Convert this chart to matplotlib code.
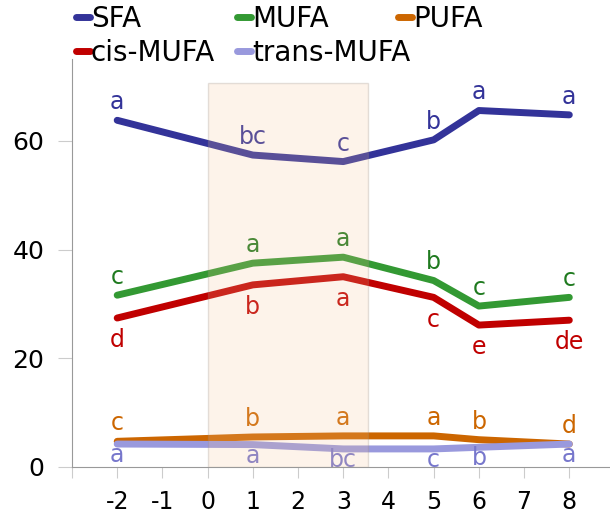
import matplotlib
matplotlib.use("Agg")
import matplotlib.pyplot as plt
from matplotlib.patches import Rectangle

# time points
x = [-2, 1, 3, 5, 6, 8]

sfa = [63.8, 57.4, 56.2, 60.2, 65.6, 64.8]
mufa = [31.6, 37.5, 38.6, 34.3, 29.6, 31.2]
cis_mufa = [27.4, 33.5, 35.0, 31.2, 26.1, 27.0]
pufa = [4.7, 5.5, 5.7, 5.7, 5.0, 4.2]
trans_mufa = [4.2, 4.1, 3.3, 3.3, 3.6, 4.2]

sfa_letters = ["a", "bc", "c", "b", "a", "a"]
mufa_letters = ["c", "a", "a", "b", "c", "c"]
cis_letters = ["d", "b", "a", "c", "e", "de"]
pufa_letters = ["c", "b", "a", "a", "b", "d"]
trans_letters = ["a", "a", "bc", "c", "b", "a"]

shade_x = (0, 3.55)
shade_top = 70.6

# name, values, letters, line colour, letter colour, letter offset (pt)
series = [
    ("SFA", sfa, sfa_letters, "#333399", "#333399", 13),
    ("MUFA", mufa, mufa_letters, "#339933", "#1f7a1f", 13),
    ("PUFA", pufa, pufa_letters, "#cc6600", "#cc6600", 13),
    ("cis-MUFA", cis_mufa, cis_letters, "#c00000", "#c00000", -16),
    ("trans-MUFA", trans_mufa, trans_letters, "#9999dd", "#7777cc", -8),
]

fig = plt.figure(figsize=(6.1, 5.17), dpi=100)
ax = fig.add_axes([0.118, 0.097, 0.882, 0.788])

handles = {}
for name, vals, letters, col, tcol, off in series:
    ln, = ax.plot(x, vals, color=col, lw=5, solid_capstyle="round",
                  solid_joinstyle="round", label=name, zorder=2)
    handles[name] = ln
    for xi, yi, lt in zip(x, vals, letters):
        ax.annotate(lt, (xi, yi), xytext=(0, off), textcoords="offset points",
                    ha="center", va="center", fontsize=17, color=tcol, zorder=3)

ax.add_patch(Rectangle((shade_x[0], 0), shade_x[1] - shade_x[0], shade_top,
                       facecolor=(245 / 255, 195 / 255, 150 / 255, 0.2),
                       edgecolor=(0.6, 0.55, 0.5, 0.25), lw=1, zorder=4))

ax.set_xlim(-3, 8.9)
ax.set_ylim(0, 75)
ax.set_xticks(range(-3, 9))
ax.set_xticklabels([""] + [str(i) for i in range(-2, 9)])
ax.set_yticks([0, 20, 40, 60])
for s in ["top", "right"]:
    ax.spines[s].set_visible(False)
for s in ["left", "bottom"]:
    ax.spines[s].set_color("#999999")
ax.tick_params(axis="x", length=8, color="#cccccc", labelsize=17, pad=9)
ax.tick_params(axis="y", length=10, color="#cccccc", labelsize=18, pad=10)

# legend laid out as a fixed grid, one legend per column
columns = [(["SFA", "cis-MUFA"], 0.124), (["MUFA", "trans-MUFA"], 0.388),
           (["PUFA"], 0.652)]
for names, xpos in columns:
    fig.legend([handles[n] for n in names], names, loc="upper left",
               bbox_to_anchor=(xpos, 0.99), frameon=False, fontsize=20,
               handlelength=0.5, handletextpad=0.05, borderpad=0,
               borderaxespad=0, labelspacing=0.2)

fig.savefig("out.png", dpi=100)
